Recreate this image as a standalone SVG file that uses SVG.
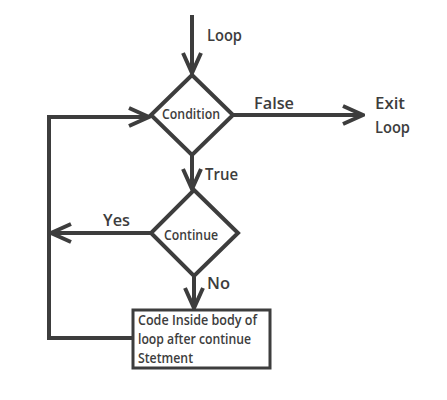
<svg xmlns="http://www.w3.org/2000/svg" width="447" height="400" viewBox="0 0 447 400">
<defs>
<style>
.ln{fill:none;stroke:#3d3d3d;stroke-width:4}
.sh{fill:#fff;stroke:#3d3d3d;stroke-width:4}
.t{font-family:"Open Sans","Noto Sans",sans-serif;font-weight:600;fill:#3d3d3d}
.lb{font-size:17px}
.nd{font-size:14px}
.bx{font-size:15px}
</style>
<marker id="ah" markerUnits="userSpaceOnUse" viewBox="-22 -11 24 22" markerWidth="24" markerHeight="22" refX="0" refY="0" orient="auto">
<path d="M-20,-9 L0,0 L-20,9" fill="none" stroke="#3d3d3d" stroke-width="4"/>
</marker>
</defs>
<rect width="447" height="400" fill="#fff"/>
<g id="connectors">
<path class="ln" d="M192,15 V73" marker-end="url(#ah)"/>
<path class="ln" d="M233,115 H363" marker-end="url(#ah)"/>
<path class="ln" d="M192,155 V189" marker-end="url(#ah)"/>
<path class="ln" d="M151,233 H51" marker-end="url(#ah)"/>
<path class="ln" d="M194,277 V308" marker-end="url(#ah)"/>
<path class="ln" d="M132,338 H49 V117 H149" marker-end="url(#ah)"/>
<text class="t lb" x="207" y="41" textLength="35" lengthAdjust="spacingAndGlyphs">Loop</text>
<text class="t lb" x="254" y="109" textLength="40" lengthAdjust="spacingAndGlyphs">False</text>
<text class="t lb" x="205" y="180" textLength="33" lengthAdjust="spacingAndGlyphs">True</text>
<text class="t lb" x="103" y="226" textLength="27" lengthAdjust="spacingAndGlyphs">Yes</text>
<text class="t lb" x="207" y="289" textLength="23" lengthAdjust="spacingAndGlyphs">No</text>
</g>
<g id="condition">
<polygon class="sh" points="192,75 233,115 192,155 151,115"/>
<text class="t nd" x="162" y="119" textLength="58" lengthAdjust="spacingAndGlyphs">Condition</text>
</g>
<g id="continue">
<polygon class="sh" points="194,190 238,233 194,276 151,233"/>
<text class="t nd" x="164" y="240" textLength="54" lengthAdjust="spacingAndGlyphs">Continue</text>
</g>
<g id="exit">
<text class="t lb" x="375" y="109" textLength="30" lengthAdjust="spacingAndGlyphs">Exit</text>
<text class="t lb" x="375" y="133" textLength="35" lengthAdjust="spacingAndGlyphs">Loop</text>
</g>
<g id="body">
<rect x="133" y="310" width="137" height="58" fill="#fff" stroke="#3d3d3d" stroke-width="3"/>
<text class="t bx" x="138" y="325" textLength="119" lengthAdjust="spacingAndGlyphs">Code Inside body of</text>
<text class="t bx" x="138" y="344" textLength="113" lengthAdjust="spacingAndGlyphs">loop after continue</text>
<text class="t bx" x="138" y="363" textLength="55" lengthAdjust="spacingAndGlyphs">Stetment</text>
</g>
</svg>
